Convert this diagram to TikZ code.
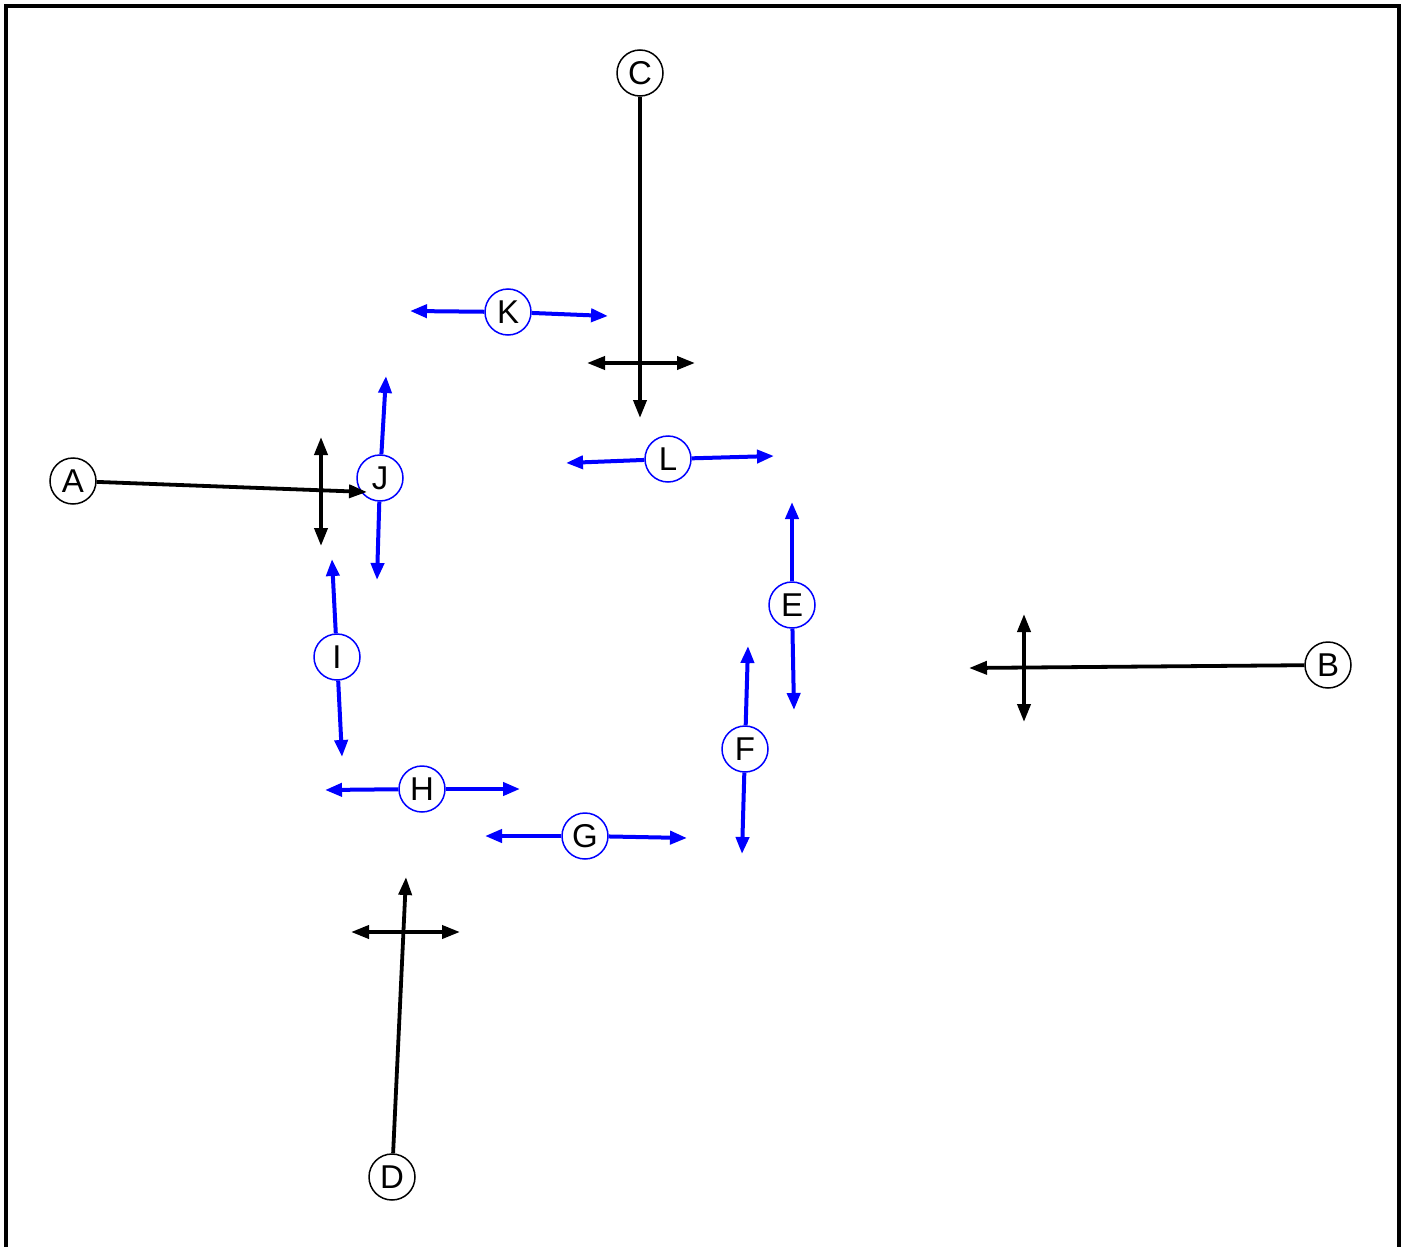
\documentclass[tikz,border=0pt]{standalone}
\usepackage{fontspec}
\setmainfont{Liberation Sans}
\usetikzlibrary{arrows.meta}
\begin{document}
\begin{tikzpicture}[x=0.5pt,y=-0.5pt,
  blacknode/.style={circle,draw=black,line width=0.75pt,fill=white,minimum size=23pt,inner sep=0pt,font=\fontsize{16.5}{16.5}\selectfont},
  bluenode/.style={circle,draw=blue,line width=0.75pt,fill=white,minimum size=23pt,inner sep=0pt,font=\fontsize{16.5}{16.5}\selectfont},
  blackarr/.style={draw=black,line width=1.9pt,-{Triangle[length=9pt,width=6.5pt]}},
  blackdbl/.style={draw=black,line width=1.9pt,{Triangle[length=9pt,width=6.5pt]}-{Triangle[length=9pt,width=6.5pt]}},
  bluearr/.style={draw=blue,line width=2pt,-{Triangle[length=8.5pt,width=6.5pt]}},
  frame/.style={draw=black,line width=2pt}]
\useasboundingbox (0,0) rectangle (1408,1247);
\draw[frame] (5.5,1260) -- (5.5,6) -- (1399,6) -- (1399,1260);
% coordinates
\coordinate (Aend) at (367,492);
\coordinate (Ax1) at (321,437);
\coordinate (Ax2) at (321,546);
\coordinate (Cend) at (640,418);
\coordinate (Cx1) at (587,363);
\coordinate (Cx2) at (695,363);
\coordinate (Bend) at (969,668);
\coordinate (Bx1) at (1024,614);
\coordinate (Bx2) at (1024,722);
\coordinate (Dend) at (406,877);
\coordinate (Dx1) at (351,932);
\coordinate (Dx2) at (460,932);
\coordinate (Kl) at (410,311);
\coordinate (Kr) at (608,316);
\coordinate (Ll) at (566,463);
\coordinate (Lr) at (774,456);
\coordinate (Et) at (792,502);
\coordinate (Eb) at (794,710);
\coordinate (Ft) at (748,646);
\coordinate (Fb) at (742,854);
\coordinate (It) at (332,559);
\coordinate (Ib) at (342,757);
\coordinate (Jt) at (386,376);
\coordinate (Jb) at (377,580);
\coordinate (Hl) at (325,790);
\coordinate (Hr) at (520,789);
\coordinate (Gl) at (485,836);
\coordinate (Gr) at (687,838);
% nodes
\node[blacknode] (A) at (73,481) {A};
\node[blacknode] (B) at (1328,665) {B};
\node[blacknode] (C) at (640,73) {C};
\node[blacknode] (D) at (392,1177) {D};
\node[bluenode] (J) at (380,478) {J};
\node[bluenode] (K) at (508,312) {K};
\node[bluenode] (L) at (668,459) {L};
\node[bluenode] (E) at (792,605) {E};
\node[bluenode] (F) at (745,749) {F};
\node[bluenode] (I) at (337,657) {I};
\node[bluenode] (H) at (422,789) {H};
\node[bluenode] (G) at (585,836) {G};
% blue arrows
\foreach \n/\p/\q in {K/Kl/Kr,L/Ll/Lr,E/Et/Eb,F/Ft/Fb,I/It/Ib,J/Jt/Jb,H/Hl/Hr,G/Gl/Gr}{
  \draw[bluearr] (\n) -- (\p);
  \draw[bluearr] (\n) -- (\q);
}
% black arrows
\draw[blackarr] (A) -- (Aend);
\draw[blackdbl] (Ax1) -- (Ax2);
\draw[blackarr] (C) -- (Cend);
\draw[blackdbl] (Cx1) -- (Cx2);
\draw[blackarr] (B) -- (Bend);
\draw[blackdbl] (Bx1) -- (Bx2);
\draw[blackarr] (D) -- (Dend);
\draw[blackdbl] (Dx1) -- (Dx2);
\end{tikzpicture}
\end{document}
